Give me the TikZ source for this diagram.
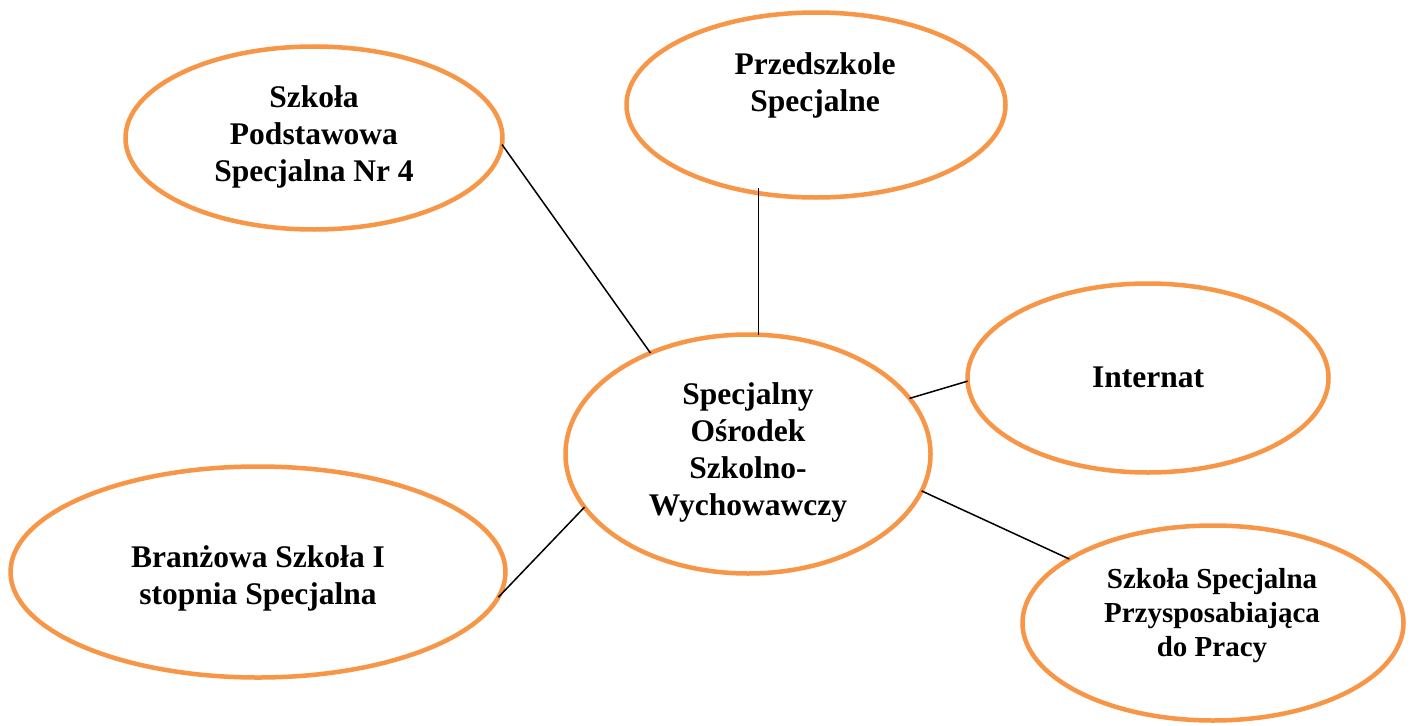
\documentclass[tikz,border=0pt]{standalone}
\usepackage{fontspec}
\setmainfont{Liberation Serif}
\usetikzlibrary{shapes.geometric}
\definecolor{ringorange}{HTML}{F79646}
\begin{document}
\begin{tikzpicture}[x=1pt,y=-1pt,
  ring/.style={ellipse,draw=ringorange,line width=4.5pt,inner sep=0pt,outer sep=0pt},
  lbl/.style={align=center,font=\bfseries\fontsize{31.5}{37}\selectfont,inner sep=0pt},
  lblsmall/.style={align=center,font=\bfseries\fontsize{29}{34}\selectfont,inner sep=0pt},
  conn/.style={draw=black,line width=1.5pt}]
\useasboundingbox[fill=white] (0,0) rectangle (1415,725);

\node[ring,minimum width=377pt,minimum height=183pt] (sp) at (314,138) {};
\node[ring,minimum width=379pt,minimum height=185pt] (pz) at (816,105) {};
\node[ring,minimum width=365pt,minimum height=239pt] (c) at (748,454) {};
\node[ring,minimum width=361pt,minimum height=189pt] (in) at (1148,378) {};
\node[ring,minimum width=495pt,minimum height=211pt] (br) at (258,572) {};
\node[ring,minimum width=381pt,minimum height=195pt] (pr) at (1213,623) {};

\node[lbl] (tsp) at (314,137) {Szkoła\\Podstawowa\\Specjalna Nr 4};
\node[lbl] (tpz) at (815,85) {Przedszkole\\Specjalne};
\node[lbl] (tc) at (748,452) {Specjalny\\Ośrodek\\Szkolno-\\Wychowawczy};
\node[lbl] (tin) at (1148,377) {Internat};
\node[lbl] (tbr) at (258,578) {Branżowa Szkoła I\\stopnia Specjalna};
\node[lblsmall] (tpr) at (1212,616) {Szkoła Specjalna\\Przysposabiająca\\do Pracy};

\draw[conn] (sp.-2) -- (c.134);
\draw[conn,shorten >=-9.5pt] (c.85.4) -- (c.85.4 |- pz.south);
\draw[conn] (c.19.2) -- (in.181);
\draw[conn] (c.-12) -- (pr.156);
\draw[conn] (c.-162.3) -- (br.-6);
\end{tikzpicture}
\end{document}
